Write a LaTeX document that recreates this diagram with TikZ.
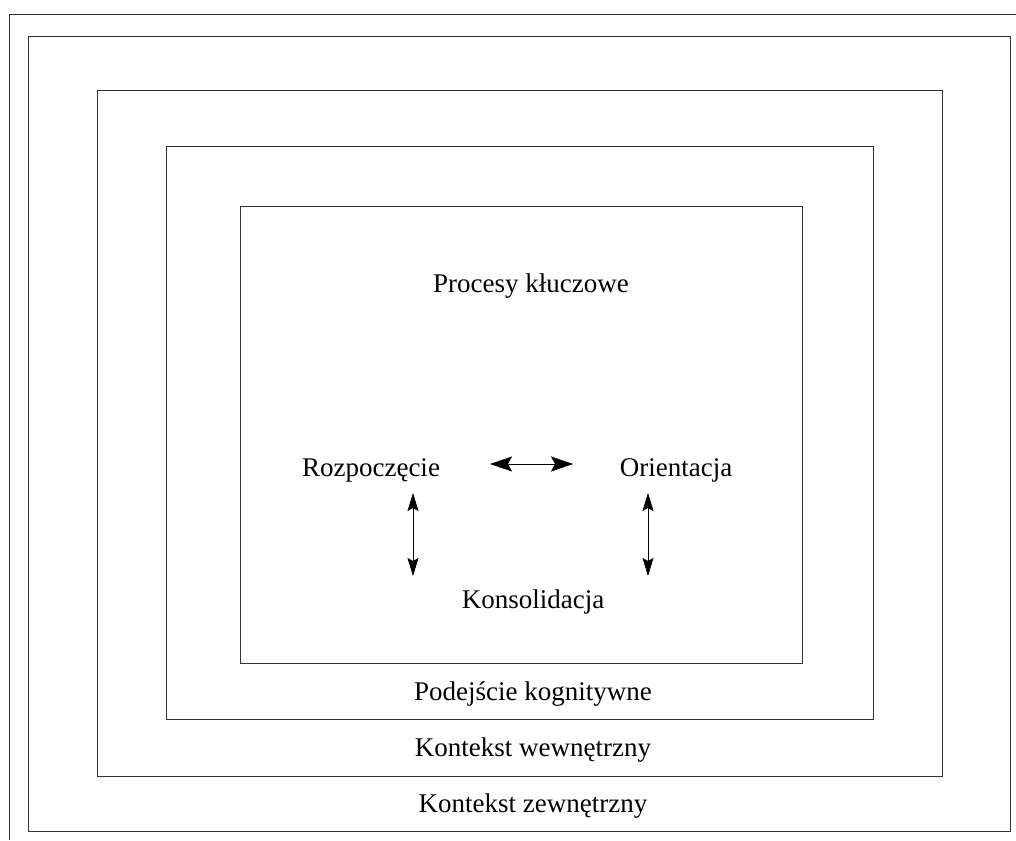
\documentclass[tikz,border=0pt]{standalone}
\usepackage{fontspec}
\setmainfont{Liberation Serif}
\usetikzlibrary{arrows.meta}
\begin{document}
\begin{tikzpicture}[x=1pt,y=-1pt,
  frame/.style={draw=black!80,line width=0.9pt},
  lbl/.style={font=\fontsize{27}{32}\selectfont,inner sep=0pt,anchor=base},
  dbl/.style={line width=0.6pt,{Stealth[length=22pt,width=15pt,inset=4pt]}-{Stealth[length=22pt,width=15pt,inset=4pt]}},
  dblv/.style={line width=0.6pt,{Stealth[length=18pt,width=11pt,inset=3pt]}-{Stealth[length=18pt,width=11pt,inset=3pt]}}]
\useasboundingbox (0,0) rectangle (1016,840);
% outermost frame (partly cut off)
\draw[frame] (9,840) -- (9,14) -- (1016,14);
\draw[frame] (28,36) rectangle (1010,831);
\draw[frame] (97,90) rectangle (942,776);
\draw[frame] (166,146) rectangle (873,719);
\draw[frame] (240,206) rectangle (802,663);
% labels
\node[lbl] (proc) at (531,292) {Procesy kłuczowe};
\node[lbl] (roz) at (371,476) {Rozpoczęcie};
\node[lbl] (ori) at (676,476) {Orientacja};
\node[lbl] (kon) at (533,608) {Konsolidacja};
\node[lbl] (pod) at (533,700) {Podejście kognitywne};
\node[lbl] (wew) at (533,756) {Kontekst wewnętrzny};
\node[lbl] (zew) at (533,812) {Kontekst zewnętrzny};
% arrow ends
\coordinate (h1) at (490,464);
\coordinate (h2) at (573,464);
\coordinate (l1) at (413,493);
\coordinate (l2) at (413,576);
\coordinate (r1) at (648,493);
\coordinate (r2) at (648,576);
\draw[dbl] (h1) -- (h2);
\draw[dblv] (l1) -- (l2);
\draw[dblv] (r1) -- (r2);
\end{tikzpicture}
\end{document}
